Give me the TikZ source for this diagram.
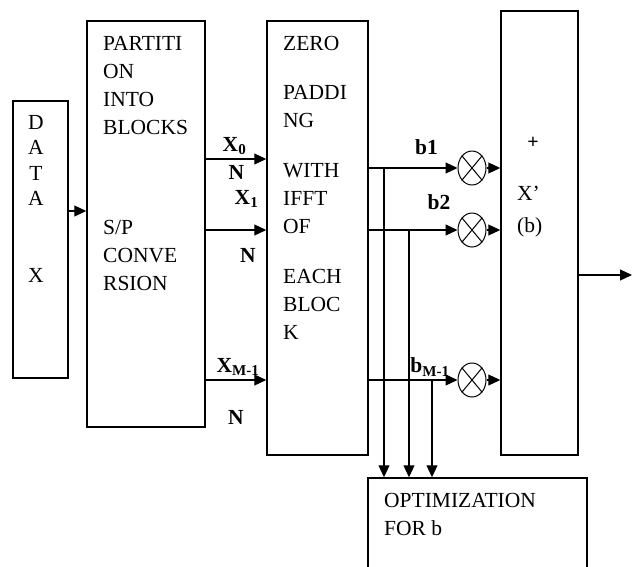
\documentclass[tikz,border=0pt]{standalone}
\usepackage{fontspec}
\setmainfont{Liberation Serif}
\usetikzlibrary{arrows.meta,positioning,shapes.geometric}

\begin{document}
\begin{tikzpicture}[x=1pt, y=-1pt,
    box/.style={draw, line width=1.5pt, inner sep=0pt},
    txt/.style={anchor=north west, inner sep=0pt, align=left, font=\fontsize{21.5}{28}\selectfont},
    lbl/.style={inner sep=0pt, font=\fontsize{21.5}{24}\selectfont\bfseries},
    mult/.style={draw, ellipse, line width=1pt, minimum width=28pt, minimum height=34pt, inner sep=0pt},
    arrow/.style={-{Triangle[length=12pt,width=11pt]}, line width=1.2pt}
]
\useasboundingbox (0,0) rectangle (638,566);

% The blocks
\node[box, minimum width=55pt, minimum height=277pt] (data) at (40.5,239.5) {};
\node[box, minimum width=118pt, minimum height=406pt] (part) at (146,224) {};
\node[box, minimum width=101pt, minimum height=434pt] (zero) at (317.5,238) {};
\node[box, minimum width=77pt, minimum height=444pt] (sum) at (539.5,233) {};
\node[box, minimum width=219pt, minimum height=122pt] (opt) at (477.5,539) {};

% Block texts
\node[txt, anchor=north, align=center, font=\fontsize{21.5}{25.5}\selectfont] (datatxt) at (36,115) {D\\A\\T\\A\\[51.5pt]X};
\node[txt] (parttxt) at (103,36) {PARTITI\\ON\\INTO\\BLOCKS\\[72pt]S/P\\CONVE\\RSION};
\node[txt] (zerotxt) at (283,36) {ZERO\\[21pt]PADDI\\NG\\[22pt]WITH\\IFFT\\OF\\[22pt]EACH\\BLOC\\K};
\node[inner sep=0pt, font=\fontsize{20}{20}\selectfont\bfseries] (plus) at (533,143) {+};
\node[txt] (sumtxt) at (517,186) {X’\\[4pt](b)};
\node[txt] (opttxt) at (384,493) {OPTIMIZATION\\FOR b};

% Levels
\coordinate (l0) at (0,159);
\coordinate (l1) at (0,230);
\coordinate (l2) at (0,380);
\coordinate (k0) at (0,168);
\coordinate (k1) at (0,230);
\coordinate (k2) at (0,380);

% Multipliers
\node[mult] (m0) at (472,168) {};
\node[mult] (m1) at (472,230) {};
\node[mult] (m2) at (472,380) {};
\foreach \m in {m0,m1,m2}
  \draw[line width=1pt] (\m.north east) -- (\m.south west) (\m.north west) -- (\m.south east);

% Main flow
\draw[arrow] (data.east |- 0,211) -- (part.west |- 0,211);
\draw[arrow] (part.east |- l0) -- (zero.west |- l0);
\draw[arrow] (part.east |- l1) -- (zero.west |- l1);
\draw[arrow] (part.east |- l2) -- (zero.west |- l2);
\draw[arrow] (zero.east |- k0) -- (m0.west);
\draw[arrow] (zero.east |- k1) -- (m1.west);
\draw[arrow] (zero.east |- k2) -- (m2.west);
\draw[arrow] (m0.east) -- (sum.west |- m0.east);
\draw[arrow] (m1.east) -- (sum.west |- m1.east);
\draw[arrow] (m2.east) -- (sum.west |- m2.east);
\coordinate (out) at (632,275);
\draw[arrow] (sum.east |- out) -- (out);

% Branches to optimization
\coordinate (br0) at (384,168);
\coordinate (br1) at (409,230);
\coordinate (br2) at (432,380);
\draw[arrow] (br0) -- (br0 |- opt.north);
\draw[arrow] (br1) -- (br1 |- opt.north);
\draw[arrow] (br2) -- (br2 |- opt.north);

% Labels
\node[lbl] (x0) at (234.5,146) {X\textsubscript{0}};
\node[lbl] (n0) at (236.5,172.5) {N};
\node[lbl] (x1) at (246.5,199) {X\textsubscript{1}};
\node[lbl] (n1) at (248,255) {N};
\node[lbl] (x2) at (238,367) {X\textsubscript{M-1}};
\node[lbl] (n2) at (236,417) {N};
\node[lbl] (b0) at (426.5,147) {b1};
\node[lbl] (b1) at (439,202) {b2};
\node[lbl] (b2) at (430,367) {b\textsubscript{M-1}};

\end{tikzpicture}
\end{document}
